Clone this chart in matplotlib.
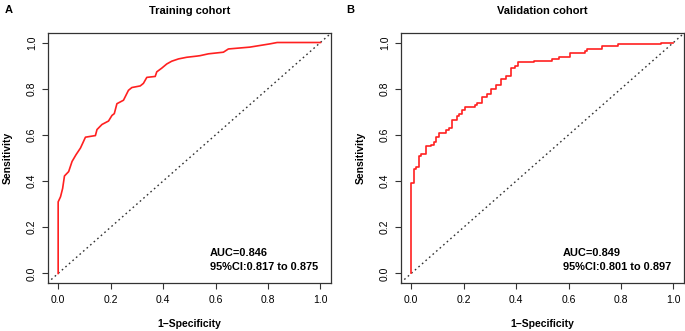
import matplotlib.pyplot as plt

plt.rcParams['font.family'] = ['Liberation Sans', 'DejaVu Sans']

# Training cohort ROC points (1-specificity, sensitivity)
train_fpr = [0.0, 0.0, 0.009, 0.017, 0.024, 0.040, 0.053, 0.068, 0.085, 0.094, 0.104,
             0.142, 0.148, 0.167, 0.192, 0.205, 0.214, 0.224, 0.249, 0.268, 0.281,
             0.313, 0.325, 0.338, 0.370, 0.376, 0.395, 0.414, 0.433, 0.459, 0.490,
             0.528, 0.541, 0.573, 0.630, 0.649, 0.731, 0.769, 0.807, 0.835, 1.0]
train_tpr = [0.0, 0.31, 0.332, 0.368, 0.422, 0.441, 0.485, 0.514, 0.543, 0.565, 0.590,
             0.597, 0.623, 0.645, 0.660, 0.684, 0.692, 0.735, 0.750, 0.793, 0.805,
             0.812, 0.823, 0.849, 0.853, 0.873, 0.889, 0.907, 0.919, 0.929, 0.936,
             0.941, 0.943, 0.951, 0.958, 0.972, 0.980, 0.987, 0.994, 1.0, 1.0]

# Validation cohort ROC step points
valid_fpr = [0.0, 0.0, 0.010, 0.020, 0.030, 0.038, 0.057, 0.076, 0.087, 0.095, 0.107,
             0.134, 0.144, 0.157, 0.173, 0.183, 0.195, 0.204, 0.243, 0.252, 0.271,
             0.288, 0.303, 0.322, 0.341, 0.360, 0.379, 0.396, 0.408, 0.468, 0.536,
             0.565, 0.606, 0.663, 0.672, 0.729, 0.788, 0.952, 1.0]
valid_tpr = [0.0, 0.393, 0.452, 0.460, 0.507, 0.517, 0.550, 0.557, 0.568, 0.590, 0.609,
             0.620, 0.630, 0.664, 0.681, 0.692, 0.706, 0.722, 0.731, 0.740, 0.762,
             0.779, 0.798, 0.815, 0.841, 0.853, 0.888, 0.900, 0.914, 0.921, 0.929,
             0.936, 0.954, 0.962, 0.972, 0.983, 0.992, 1.0, 1.0]

panels = [
    ('A', 'Training cohort', train_fpr, train_tpr, 'AUC=0.846\n95%CI:0.817 to 0.875', None),
    ('B', 'Validation cohort', valid_fpr, valid_tpr, 'AUC=0.849\n95%CI:0.801 to 0.897', 'steps-post'),
]

fig = plt.figure(figsize=(6.85, 3.31), dpi=100)
lefts = [0.0696, 0.585]
letter_x = [0.007, 0.505]

for (letter, title, fpr, tpr, txt, ds), left, lx in zip(panels, lefts, letter_x):
    ax = fig.add_axes([left, 0.146, 0.4135, 0.7535])
    ax.axline((0, 0), (1, 1), color='#333333', linestyle=(0, (1.2, 2.2)), linewidth=1.0)
    if ds:
        ax.plot(fpr, tpr, color='#ff2020', linewidth=1.2, drawstyle=ds)
    else:
        ax.plot(fpr, tpr, color='#ff2020', linewidth=1.2)
    ax.set_xlim(-0.04, 1.04)
    ax.set_ylim(-0.04, 1.04)
    ticks = [0.0, 0.2, 0.4, 0.6, 0.8, 1.0]
    ax.set_xticks(ticks)
    ax.set_yticks(ticks)
    ax.set_xticklabels([f'{t:.1f}' for t in ticks], fontsize=7.5)
    ax.set_yticklabels([f'{t:.1f}' for t in ticks], fontsize=7.5, rotation=90, va='center')
    ax.tick_params(direction='out', length=4.3, width=0.8, color='#333333', pad=4.5)
    ax.tick_params(axis='y', pad=3.5)
    for s in ax.spines.values():
        s.set_color('#333333')
        s.set_linewidth(0.9)
    ax.set_xlabel('1\u2212Specificity', fontsize=7.5, fontweight='bold', labelpad=10)
    ax.set_ylabel('Sensitivity', fontsize=7.5, fontweight='bold', labelpad=10)
    ax.set_title(title, fontsize=8, fontweight='bold', pad=14)
    ax.text(0.578, 0.06, txt, fontsize=7.9, fontweight='bold', va='center', ha='left',
            linespacing=1.5)
    fig.text(lx, 0.985, letter, fontsize=8, fontweight='bold', va='top', ha='left')

plt.savefig('out.png', dpi=100)
